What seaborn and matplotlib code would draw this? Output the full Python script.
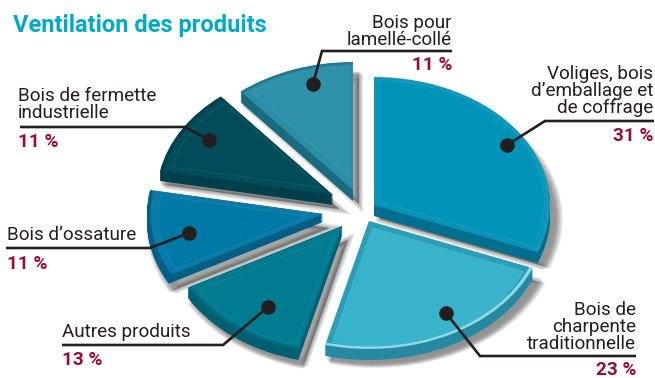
import math
import matplotlib
matplotlib.use("Agg")
import matplotlib.pyplot as plt
import seaborn as sns
import pandas as pd

# ---- data ----
categories = ["Voliges, bois\nd’emballage et\nde coffrage", "Bois de\ncharpente\ntraditionnelle",
              "Autres produits", "Bois d’ossature", "Bois de fermette\nindustrielle",
              "Bois pour\nlamellé-collé"]
shares = [31, 23, 13, 11, 11, 11]
share_labels = ["31 %", "23 %", "13 %", "11 %", "11 %", "11 %"]
title_text = "Ventilation des produits"

# ---- colours ----
face_colors = ["#0093b8", "#38b3cb", "#007b8f", "#0078a5", "#024b58", "#2e91a9"]
bevel_colors = ["#0a93b8", "#2b9db6", "#007a8e", "#0a7ba8", "#034c59", "#2b8da6"]
rim_colors = ["#1498ba", "#8fd6e6", "#00697b", "#005f84", "#023f4b", "#20788f"]
side_colors = ["#006f8e", "#2589a2", "#005f70", "#005f84", "#023f4b", "#1b6b80"]
ink = "#231f20"
crimson = "#970a3c"
title_color = "#00a9c8"

# ---- layout (pixels) ----
W, H = 655, 378
RX, RY = 176, 128
apexes = [(374, 205), (369, 221), (342, 226), (323, 214), (333, 195), (353, 190)]
depths = [11, 11, 10, 8, 10, 11]
leaders = [[(507, 145), (545, 121), (654, 121)],
           [(446, 313), (480, 356), (636, 356)],
           [(268, 307), (223, 345), (62, 345)],
           [(189, 233), (150, 248), (6, 248)],
           [(209, 140), (185, 127), (20, 127)],
           [(313, 84), (322, 51), (452, 51)]]
label_pos = [(653, 113, "right"), (636, 349, "right"), (62, 337, "left"),
             (7, 240, "left"), (18, 118, "left"), (452, 45, "right")]
share_pos = [(653, 141, "right"), (636, 375, "right"), (62, 365, "left"),
             (7, 269, "left"), (18, 147, "left"), (452, 70, "right")]

sns.set_theme(style="white")
plt.rcParams["font.family"] = ["Roboto", "DejaVu Sans"]

fig = plt.figure(figsize=(W / 100, H / 100), dpi=100, facecolor="white")
pie_ax = fig.add_axes([0, 0, 1, 1])


def px(x, y):
    return x / RX, (H - y) / RY


def layer(colors, dx=0, dy=0, scale=1.0, z=1, inset=False, **props):
    wedges, _ = pie_ax.pie(shares, colors=colors, startangle=90, counterclock=False,
                           radius=scale, wedgeprops=dict(zorder=z, **props))
    for wedge, (ax_, ay_) in zip(wedges, apexes):
        sx, sy = 0, 0
        if inset:
            half = math.radians((wedge.theta2 - wedge.theta1) / 2)
            mid = math.radians((wedge.theta2 + wedge.theta1) / 2)
            shift = 5 / math.sin(half)
            sx, sy = shift * math.cos(mid), -shift * math.sin(mid)
            wedge.set_radius(1 - shift / 100)
        wedge.set_center(px(ax_ + dx + sx, ay_ + dy + sy))
        wedge.set_zorder(z)
    return wedges


# soft drop shadow
for k in range(8):
    layer(["#000000"] * 6, dx=6, dy=14, scale=1.04 - k * 0.009, z=1, alpha=0.05,
          linewidth=k * 0.9, edgecolor=(0, 0, 0, 0.02))
# extruded sides
for d in range(max(depths), 0, -1):
    wedges = layer(side_colors, dy=d, z=2, linewidth=0)
    for w, depth in zip(wedges, depths):
        w.set_visible(d <= depth)
# top face: outer rim, bevel and inner face
layer(rim_colors, z=3, linewidth=0)
layer(bevel_colors, scale=0.98, z=3.5, linewidth=0)
layer(face_colors, z=4, inset=True, linewidth=0.4, edgecolor=(1, 1, 1, 0.14))

pie_ax.set_aspect("auto")
pie_ax.set_xlim(0, W / RX)
pie_ax.set_ylim(0, H / RY)
pie_ax.axis("off")

# overlay in pixel coordinates
ov = fig.add_axes([0, 0, 1, 1], facecolor="none")

for pts in leaders:
    xs, ys = zip(*pts)
    ov.plot(xs, ys, color=ink, lw=1.9, solid_joinstyle="miter", solid_capstyle="butt", zorder=5)

dots = pd.DataFrame({"x": [p[0][0] for p in leaders], "y": [p[0][1] for p in leaders]})
sns.scatterplot(data=dots, x="x", y="y", ax=ov, color=ink, s=110, linewidth=0, zorder=6, legend=False)
ov.set_xlim(0, W)
ov.set_ylim(H, 0)
ov.axis("off")

for text, (x, y, ha) in zip(categories, label_pos):
    ov.text(x, y, text, ha=ha, va="baseline", fontsize=13.6, color=ink, linespacing=0.94,
            multialignment=ha, zorder=7)
for text, (x, y, ha) in zip(share_labels, share_pos):
    ov.text(x, y, text, ha=ha, va="baseline", fontsize=13.6, color=crimson,
            fontweight="bold", zorder=7)
ov.text(13, 32, title_text, ha="left", va="baseline", fontsize=17, color=title_color,
        fontweight="bold", zorder=7)

fig.savefig("out.png", dpi=100, facecolor="white")
